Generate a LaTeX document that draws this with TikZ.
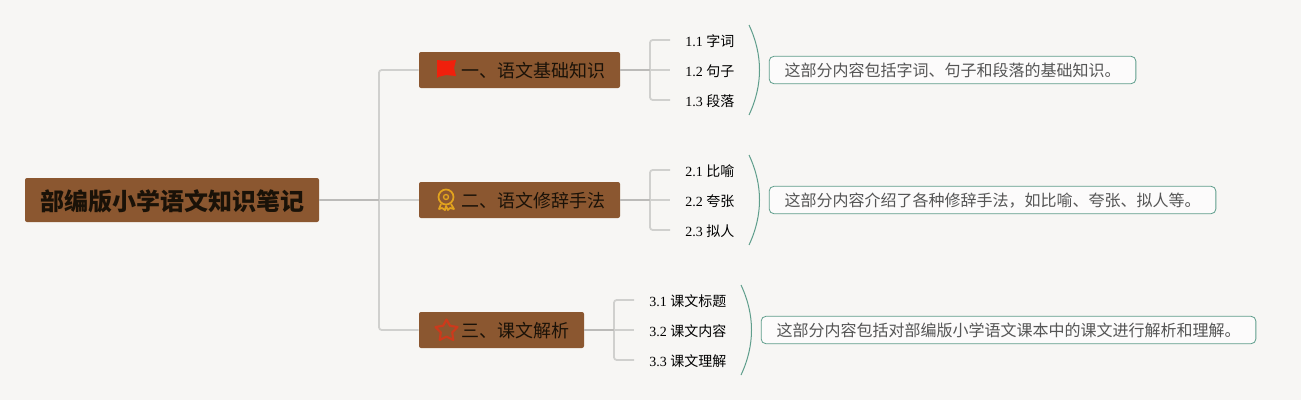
\documentclass[tikz,border=0pt]{standalone}
\usepackage{fontspec}
\usepackage{xcolor}
\setmainfont{Liberation Serif}
\newfontfamily\cjk{Noto Sans CJK SC}
\definecolor{paper}{HTML}{F7F6F4}
\definecolor{boxbrown}{HTML}{8B5730}
\definecolor{linelight}{HTML}{D0D0CE}
\definecolor{linedark}{HTML}{BCBBB9}
\definecolor{notegreen}{HTML}{5F9E8C}
\definecolor{notetext}{HTML}{555555}
\definecolor{ribbongold}{HTML}{E3A41E}
\definecolor{flagred}{HTML}{F0200C}
\definecolor{starred}{HTML}{CC3A1C}
\definecolor{darktext}{HTML}{1A1208}
\tikzset{
    rootbox/.style={fill=boxbrown, rounded corners=1.5pt, minimum width=220.5pt, minimum height=33pt, inner sep=0pt, text height=15.8pt, text depth=0.6pt, font=\cjk\bfseries\fontsize{18}{18}\selectfont, text=darktext},
    branchbox/.style={fill=boxbrown, rounded corners=1.5pt, minimum height=27pt, inner sep=0pt, text height=12pt, text depth=0.8pt, font=\cjk\fontsize{13.5}{14}\selectfont, text=darktext},
    leaftext/.style={anchor=west, inner xsep=11.25pt, inner ysep=2pt, text height=9.5pt, text depth=0pt, font=\fontsize{10.5}{11}\selectfont, text=black},
    notebox/.style={draw=notegreen, line width=0.6pt, fill=paper!40!white, rounded corners=3.5pt, minimum height=20.5pt, inner sep=0pt, text height=10.8pt, text depth=1pt, font=\cjk\fontsize{12}{13}\selectfont, text=notetext},
    mainline/.style={draw=linedark, line width=1.3pt},
    sideline/.style={draw=linelight, line width=1.3pt},
    bracket/.style={draw=notegreen, line width=0.75pt},
}
\begin{document}
\begin{tikzpicture}[x=0.75pt, y=-0.75pt]
    \useasboundingbox (0,0) rectangle (1301,400);
    \fill[paper] (0,0) rectangle (1301,400);

    % Define main nodes
    \node[rootbox] (root) at (172,200) {部编版小学语文知识笔记};
    \node[branchbox, minimum width=150.75pt] (one) at (519.5,70) {\hspace*{20.25pt}一、语文基础知识};
    \node[branchbox, minimum width=150.75pt] (two) at (519.5,200) {\hspace*{20.25pt}二、语文修辞手法};
    \node[branchbox, minimum width=123.75pt] (three) at (501.5,330) {\hspace*{20.25pt}三、课文解析};

    % Define leaf nodes
    \node[leaftext] (a1) at (670,40) {1.1 {\cjk 字词}};
    \node[leaftext] (a2) at (670,70) {1.2 {\cjk 句子}};
    \node[leaftext] (a3) at (670,100) {1.3 {\cjk 段落}};
    \node[leaftext] (b1) at (670,170) {2.1 {\cjk 比喻}};
    \node[leaftext] (b2) at (670,200) {2.2 {\cjk 夸张}};
    \node[leaftext] (b3) at (670,230) {2.3 {\cjk 拟人}};
    \node[leaftext] (c1) at (634,300) {3.1 {\cjk 课文标题}};
    \node[leaftext] (c2) at (634,330) {3.2 {\cjk 课文内容}};
    \node[leaftext] (c3) at (634,360) {3.3 {\cjk 课文理解}};

    % Notes
    \node[notebox, minimum width=275pt] (noteone) at (952.5,70) {这部分内容包括字词、句子和段落的基础知识。};
    \node[notebox, minimum width=335pt] (notetwo) at (992.5,200) {这部分内容介绍了各种修辞手法，如比喻、夸张、拟人等。};
    \node[notebox, minimum width=371pt] (notethree) at (1008.5,330) {这部分内容包括对部编版小学语文课本中的课文进行解析和理解。};

    % Trunk from the root
    \coordinate (trunk) at (379,200);
    \draw[sideline, rounded corners=2pt] (one.west) -| (trunk) |- (three.west);
    \draw[sideline] (trunk) -- (two.west);
    \draw[mainline] (root.east) -- (trunk);

    % Leaf brackets
    \coordinate (forkone) at (650,70);
    \coordinate (forktwo) at (650,200);
    \coordinate (forkthree) at (614,330);
    \draw[sideline, rounded corners=2pt] (a1.west) -| (forkone) |- (a3.west);
    \draw[sideline] (forkone) -- (a2.west);
    \draw[mainline] (one.east) -- (forkone);
    \draw[sideline, rounded corners=2pt] (b1.west) -| (forktwo) |- (b3.west);
    \draw[sideline] (forktwo) -- (b2.west);
    \draw[mainline] (two.east) -- (forktwo);
    \draw[sideline, rounded corners=2pt] (c1.west) -| (forkthree) |- (c3.west);
    \draw[sideline] (forkthree) -- (c2.west);
    \draw[mainline] (three.east) -- (forkthree);

    % Curved brackets before the notes
    \draw[bracket] (749,25) .. controls (763,55) and (763,85) .. (749,115);
    \draw[bracket] (749,155) .. controls (763,185) and (763,215) .. (749,245);
    \draw[bracket] (741,285) .. controls (755,315) and (755,345) .. (741,375);

    % Flag icon
    \fill[flagred] (437,60) -- (446,61) -- (456,60) -- (454,68) -- (456,76) -- (446,75) -- (438,77) -- (437,78) -- cycle;

    % Ribbon icon
    \draw[draw=ribbongold, line width=1.3pt] (446,197) circle (7.5);
    \draw[draw=ribbongold, line width=1pt] (446,197) circle (2.5);
    \draw[draw=ribbongold, line width=1.3pt, line join=round] (441,204) -- (439,209) -- (442,208) -- (445,210) -- (446,206) -- (448,210) -- (450,208) -- (454,209) -- (451,204);

    % Star icon
    \draw[draw=starred, line width=1.6pt, line join=round] (446.5,319.5) -- (450,325.8) -- (457.5,327) -- (452.2,332.4) -- (453.3,340) -- (446.5,336.6) -- (439.7,340) -- (440.8,332.4) -- (435.5,327) -- (443,325.8) -- cycle;
\end{tikzpicture}
\end{document}
